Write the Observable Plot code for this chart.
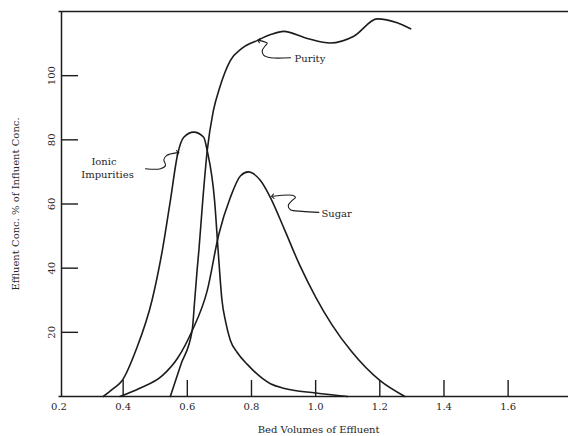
<!DOCTYPE html>
<html>
<head>
<meta charset="utf-8">
<script src="https://cdn.jsdelivr.net/npm/d3@7"></script>
<script src="https://cdn.jsdelivr.net/npm/@observablehq/plot@0.6"></script>
<style>
  html, body { margin: 0; padding: 0; background: #fff; }
  #chart svg { display: block; }
</style>
</head>
<body>
<div id="chart"></div>
<script>
// ---- Data ----
const ionicX  = [0.338, 0.37, 0.397, 0.44, 0.49, 0.522, 0.547, 0.57, 0.589, 0.62, 0.651, 0.662, 0.685, 0.696, 0.708, 0.72, 0.734, 0.755, 0.787, 0.859, 0.90, 1.0, 1.1];
const ionicY  = [0, 2.5, 5, 14.5, 30, 45.5, 61, 75.6, 80.8, 82.4, 80.8, 76.6, 61, 45.5, 30, 23, 17.5, 13.8, 10, 4.0, 2.6, 1.1, 0];

const purityX = [0.547, 0.58, 0.615, 0.623, 0.631, 0.636, 0.648, 0.662, 0.681, 0.7, 0.734, 0.77, 0.819, 0.86, 0.9, 0.974, 1.046, 1.119, 1.192, 1.254, 1.296];
const purityY = [0, 10, 20.5, 30, 40, 45.5, 61, 76.6, 89, 96, 104.7, 108.5, 111, 112.8, 113.8, 111.6, 110.2, 112.3, 117.7, 116.5, 114.6];

const sugarX  = [0.39, 0.45, 0.522, 0.57, 0.615, 0.662, 0.698, 0.734, 0.766, 0.79, 0.828, 0.859, 0.903, 0.95, 1.0, 1.05, 1.112, 1.2, 1.278];
const sugarY  = [0, 2.5, 6.5, 12, 20.5, 33, 50.5, 62, 68.8, 70, 67.3, 62, 52, 41, 31, 22.5, 14, 5, 0];

// leader (callout) lines, label end -> curve
const purityLeaderX = [0.9216, 0.8593, 0.8384, 0.8334, 0.8437, 0.849, 0.8228];
const purityLeaderY = [105.6, 105.6, 106.3, 107.8, 109.4, 110.1, 111];
const sugarLeaderX  = [1.01, 0.958, 0.9216, 0.9145, 0.927, 0.937, 0.927, 0.866];
const sugarLeaderY  = [57.4, 57.7, 58.2, 59.5, 61.1, 62.1, 62.7, 62.4];
const ionicLeaderX  = [0.4696, 0.5164, 0.532, 0.5267, 0.5351, 0.5476, 0.5703];
const ionicLeaderY  = [71, 71, 72, 73.8, 75.1, 75.6, 76];

// labels
const sideLabels  = ["Purity", "Sugar"];
const sideLabelX  = [0.934, 1.018];
const sideLabelY  = [105.4, 57.1];
const ionicLabels = ["Ionic", "Impurities"];
const ionicLabelX = [0.3403, 0.3512];
const ionicLabelY = [73.2, 69.2];

// axes
const xTicks = [0.2, 0.4, 0.6, 0.8, 1.0, 1.2, 1.4, 1.6];
const xTickLabels = ["0.2", "0.4", "0.6", "0.8", "1.0", "1.2", "1.4", "1.6"];
const yTicks = [20, 40, 60, 80, 100];
const yTickLabels = ["20", "40", "60", "80", "100"];
const xTitle = "Bed Volumes of Effluent";
const yTitle = "Effluent Conc. % of Influent Conc.";

// ---- Build tables ----
const toRows = (xs, ys, s) => xs.map((x, i) => ({x, y: ys[i], s}));
const curves = [
  ...toRows(ionicX, ionicY, "Ionic Impurities"),
  ...toRows(purityX, purityY, "Purity"),
  ...toRows(sugarX, sugarY, "Sugar")
];
const leaders = [
  ...toRows(purityLeaderX, purityLeaderY, "Purity"),
  ...toRows(sugarLeaderX, sugarLeaderY, "Sugar"),
  ...toRows(ionicLeaderX, ionicLeaderY, "Ionic Impurities")
];
const sideRows  = sideLabels.map((t, i) => ({t, x: sideLabelX[i], y: sideLabelY[i]}));
const ionicRows = ionicLabels.map((t, i) => ({t, x: ionicLabelX[i], y: ionicLabelY[i]}));
const xTickRows = xTicks.map((v, i) => ({v, t: xTickLabels[i]}));
const yTickRows = yTicks.map((v, i) => ({v, t: yTickLabels[i]}));

const ink = "#1c1c1c";
const textInk = "#262626";
const font = "DejaVu Serif";
const xTickLen = 5;      // in y units (~16px)
const yTickLen = 0.053;  // in x units (~17px)

const chart = Plot.plot({
  width: 568,
  height: 436,
  marginTop: 0, marginRight: 0, marginBottom: 0, marginLeft: 0,
  x: {domain: [0.2, 1.8], range: [58.5, 571.8], axis: null},
  y: {domain: [0, 120], range: [396, 11], axis: null},
  style: {fontFamily: font, fontSize: "10px", background: "#fff", color: textInk},
  marks: [
    // frame: bottom, left, top
    Plot.ruleY([0], {x1: 0.2, x2: 1.8, stroke: ink, strokeWidth: 1.5}),
    Plot.ruleY([120], {x1: 0.2, x2: 1.8, stroke: ink, strokeWidth: 1.6}),
    Plot.ruleX([0.2], {y1: 0, y2: 120, dx: 2.5, stroke: ink, strokeWidth: 1.5}),
    // inward ticks
    Plot.ruleX(xTicks.slice(1), {y1: 0, y2: xTickLen, stroke: ink, strokeWidth: 1.4}),
    Plot.ruleY(yTicks, {x1: 0.2, x2: 0.2 + yTickLen, dx: 2.5, stroke: ink, strokeWidth: 1.4}),
    // tick labels
    Plot.text(xTickRows, {x: "v", y: 0, text: "t", dy: 10, fill: textInk, fontSize: 10}),
    Plot.text(yTickRows, {x: 0.2, y: "v", text: "t", rotate: -90, dx: -7, fill: textInk, fontSize: 10}),
    // axis titles
    Plot.text([xTitle], {x: 1.0, y: 0, text: d => d, dx: 3, dy: 33, fill: textInk, fontSize: 10}),
    Plot.text([yTitle], {x: 0.2, y: 60, text: d => d, rotate: -90, dx: -43, fill: textInk, fontSize: 10}),
    // curves
    Plot.line(curves, {x: "x", y: "y", z: "s", curve: "monotone-x", stroke: ink, strokeWidth: 1.6}),
    // callouts
    Plot.line(leaders, {x: "x", y: "y", z: "s", curve: "catmull-rom", stroke: ink, strokeWidth: 1.1, markerEnd: "arrow"}),
    Plot.text(sideRows, {x: "x", y: "y", text: "t", textAnchor: "start", fill: textInk, fontSize: 10}),
    Plot.text(ionicRows, {x: "x", y: "y", text: "t", textAnchor: "middle", fill: textInk, fontSize: 10})
  ]
});

document.getElementById("chart").append(chart);
</script>
</body>
</html>
